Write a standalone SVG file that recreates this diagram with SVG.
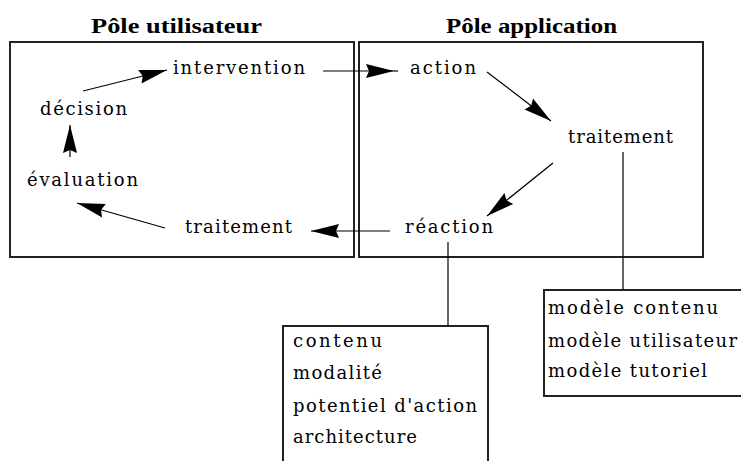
<svg xmlns="http://www.w3.org/2000/svg" width="741" height="461" viewBox="0 0 741 461">
<defs>
<style>
text{font-family:'DejaVu Serif','Liberation Serif',serif;font-size:18px;fill:#000}
.title{font-family:'Liberation Serif','DejaVu Serif',serif;font-weight:bold;font-size:20px}
.frame{fill:none;stroke:#222;stroke-width:2}
.conn{fill:none;stroke:#000;stroke-width:1.2}
.arr{fill:none;stroke:#000;stroke-width:1.2;marker-end:url(#ah)}
</style>
<marker id="ah" markerUnits="userSpaceOnUse" viewBox="-30 -8 32 16" refX="0" refY="0" markerWidth="32" markerHeight="16" orient="auto">
<path d="M0,0 L-28,-7 L-25,0 L-28,7 Z" fill="#000"/>
</marker>
</defs>
<rect width="741" height="461" fill="#fff"/>

<g id="pole-utilisateur">
<rect class="frame" x="10" y="42" width="344" height="215"/>
<text class="title" x="91" y="33" textLength="171" lengthAdjust="spacingAndGlyphs">Pôle utilisateur</text>
</g>
<g id="pole-application">
<rect class="frame" x="359" y="42" width="344" height="215"/>
<text class="title" x="446" y="33" textLength="171" lengthAdjust="spacingAndGlyphs">Pôle application</text>
</g>

<g id="intervention"><text x="173" y="74" textLength="132" lengthAdjust="spacing">intervention</text></g>
<g id="decision"><text x="40" y="115" textLength="87" lengthAdjust="spacing">décision</text></g>
<g id="evaluation"><text x="27" y="186" textLength="111" lengthAdjust="spacing">évaluation</text></g>
<g id="traitement-utilisateur"><text x="185" y="233" textLength="107" lengthAdjust="spacing">traitement</text></g>
<g id="action"><text x="410" y="74" textLength="66" lengthAdjust="spacing">action</text></g>
<g id="traitement-application"><text x="568" y="143" textLength="105" lengthAdjust="spacing">traitement</text></g>
<g id="reaction"><text x="405" y="233" textLength="88" lengthAdjust="spacing">réaction</text></g>

<g id="box-reaction">
<rect class="frame" x="283" y="326" width="205" height="160"/>
<text x="293" y="347" textLength="89" lengthAdjust="spacing">contenu</text>
<text x="293" y="379" textLength="89" lengthAdjust="spacing">modalité</text>
<text x="293" y="412" textLength="184" lengthAdjust="spacing">potentiel d'action</text>
<text x="293" y="443" textLength="124" lengthAdjust="spacing">architecture</text>
</g>
<g id="box-traitement">
<rect class="frame" x="544" y="290" width="220" height="106"/>
<text x="548" y="314" textLength="170" lengthAdjust="spacing">modèle contenu</text>
<text x="548" y="347" textLength="189" lengthAdjust="spacing">modèle utilisateur</text>
<text x="548" y="377" textLength="159" lengthAdjust="spacing">modèle tutoriel</text>
</g>

<g id="connectors">
<line class="arr" x1="83" y1="91" x2="167" y2="70"/>
<line class="arr" x1="70" y1="157" x2="70" y2="125"/>
<line class="arr" x1="165" y1="228" x2="77" y2="203"/>
<line class="arr" x1="323" y1="71" x2="394" y2="71"/>
<line class="conn" x1="394" y1="71" x2="398" y2="71"/>
<line class="arr" x1="487" y1="72" x2="551" y2="121"/>
<line class="arr" x1="553" y1="163" x2="487" y2="216"/>
<line class="arr" x1="390" y1="231" x2="311" y2="231"/>
<line class="conn" x1="448" y1="242" x2="448" y2="326"/>
<line class="conn" x1="623" y1="152" x2="623" y2="290"/>
</g>
</svg>
